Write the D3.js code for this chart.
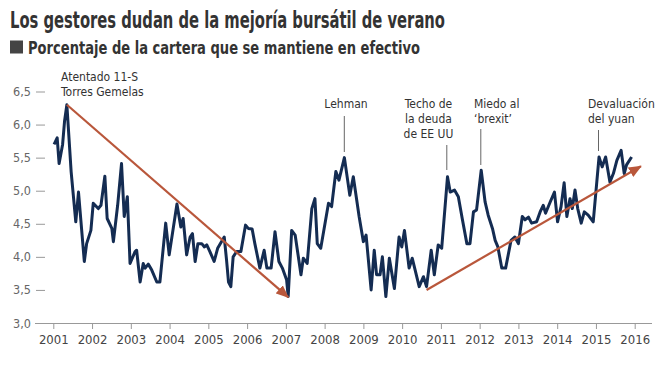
<!DOCTYPE html>
<html>
<head>
<meta charset="utf-8">
<script src="https://cdn.jsdelivr.net/npm/d3@7"></script>
<style>
  body { margin: 0; background: #fff; }
  svg text { font-family: 'Liberation Sans Narrow', 'DejaVu Sans Condensed', 'Arial Narrow', sans-serif; }
</style>
</head>
<body>
<div id="chart"></div>
<script>
'use strict';

// data
var years = [2001, 2002, 2003, 2004, 2005, 2006, 2007, 2008, 2009, 2010, 2011, 2012, 2013, 2014, 2015, 2016];
var yTicks = [3, 3.5, 4, 4.5, 5, 5.5, 6, 6.5];

var cashDates = [
    2001.02, 2001.10, 2001.15, 2001.24, 2001.29, 2001.35, 2001.46, 2001.58, 2001.65, 2001.80,
    2001.86, 2001.97, 2002.03, 2002.16, 2002.23, 2002.33, 2002.39, 2002.51, 2002.55, 2002.66,
    2002.76, 2002.83, 2002.91, 2002.98, 2003.11, 2003.15, 2003.24, 2003.32, 2003.37, 2003.45,
    2003.54, 2003.67, 2003.75, 2003.90, 2003.99, 2004.19, 2004.29, 2004.35, 2004.44, 2004.53,
    2004.59, 2004.66, 2004.73, 2004.83, 2004.90, 2004.96, 2005.04, 2005.15, 2005.24, 2005.41,
    2005.47, 2005.52, 2005.58, 2005.64, 2005.73, 2005.84, 2005.96, 2006.03, 2006.13, 2006.20,
    2006.33, 2006.44, 2006.51, 2006.62, 2006.72, 2006.82, 2006.91, 2007.02, 2007.06, 2007.15,
    2007.24, 2007.39, 2007.45, 2007.55, 2007.67, 2007.75, 2007.81, 2007.90, 2008.10, 2008.18,
    2008.29, 2008.37, 2008.51, 2008.65, 2008.74, 2008.89, 2009.00, 2009.07, 2009.20, 2009.28,
    2009.34, 2009.43, 2009.49, 2009.58, 2009.67, 2009.80, 2009.92, 2009.99, 2010.06, 2010.18,
    2010.26, 2010.44, 2010.55, 2010.63, 2010.75, 2010.83, 2010.93, 2011.02, 2011.17, 2011.24,
    2011.35, 2011.45, 2011.55, 2011.67, 2011.75, 2011.84, 2011.92, 2012.04, 2012.14, 2012.22,
    2012.33, 2012.40, 2012.47, 2012.57, 2012.67, 2012.81, 2012.91, 2013.00, 2013.10, 2013.17,
    2013.26, 2013.34, 2013.47, 2013.56, 2013.64, 2013.70, 2013.82, 2013.93, 2014.01, 2014.10,
    2014.18, 2014.25, 2014.33, 2014.39, 2014.46, 2014.53, 2014.62, 2014.70, 2014.80, 2014.93,
    2015.08, 2015.16, 2015.25, 2015.36, 2015.45, 2015.54, 2015.65, 2015.73, 2015.79, 2015.92
];
var cashValues = [
    5.70, 5.80, 5.41, 5.70, 6.05, 6.30, 5.29, 4.53, 4.98, 3.93,
    4.20, 4.40, 4.81, 4.73, 4.78, 5.22, 4.58, 4.43, 4.23, 4.78,
    5.41, 4.61, 4.91, 3.90, 4.08, 4.10, 3.62, 3.90, 3.83, 3.89,
    3.80, 3.62, 3.62, 4.51, 4.03, 4.80, 4.45, 4.58, 4.03, 4.30,
    4.35, 3.93, 4.20, 4.20, 4.15, 4.18, 4.08, 3.93, 4.13, 4.30,
    3.95, 3.62, 3.55, 4.00, 4.08, 4.08, 4.48, 4.43, 4.42, 4.20,
    3.83, 4.10, 3.83, 3.83, 4.38, 3.93, 3.83, 3.65, 3.40, 4.40,
    4.33, 3.73, 3.98, 3.90, 4.73, 4.88, 4.20, 4.13, 4.81, 4.76,
    5.29, 5.16, 5.50, 4.93, 5.21, 4.61, 4.23, 4.33, 3.50, 4.10,
    3.73, 3.73, 4.00, 3.40, 3.98, 3.52, 4.30, 4.15, 4.40, 3.83,
    3.98, 3.55, 3.70, 3.55, 4.10, 3.73, 4.18, 4.13, 5.21, 4.98,
    5.01, 4.91, 4.58, 4.20, 4.20, 4.68, 4.71, 5.31, 4.83, 4.63,
    4.43, 4.25, 4.15, 3.83, 3.83, 4.25, 4.30, 4.20, 4.61, 4.56,
    4.60, 4.51, 4.53, 4.68, 4.78, 4.66, 4.83, 4.98, 4.53, 4.76,
    5.12, 4.61, 4.88, 4.73, 5.01, 4.73, 4.51, 4.68, 4.63, 4.53,
    5.51, 5.36, 5.51, 5.13, 5.26, 5.46, 5.61, 5.26, 5.39, 5.51
];

// trend arrows: [from, to] as [year, value]
var trendArrows = [
    [[2001.35, 6.30], [2007.06, 3.39]],
    [[2010.63, 3.50], [2016.16, 5.37]]
];

// annotations
var notes = [
    { lines: ['Atentado 11-S', 'Torres Gemelas'], x: 61, y: 81, anchor: 'start', leader: null },
    { lines: ['Lehman'], x: 346, y: 108, anchor: 'middle', leader: [344.3, 116, 152] },
    { lines: ['Techo de', 'la deuda', 'de EE UU'], x: 428.5, y: 108, anchor: 'middle', leader: [446.8, 145, 170] },
    { lines: ['Miedo al', '\u2018brexit\u2019'], x: 474, y: 108, anchor: 'start', leader: [480.8, 129, 165] },
    { lines: ['Devaluaci\u00f3n', 'del yuan'], x: 588, y: 108, anchor: 'start', leader: [598.5, 130, 151] }
];

var svg, x, y;

function setup(){
    svg = d3.select('#chart').append('svg')
        .attr('width', 664)
        .attr('height', 367);

    x = d3.scaleLinear().domain([2001, 2016]).range([53.3, 634.7]);
    y = d3.scaleLinear().domain([3, 6.5]).range([323, 91.5]);

    svg.append('defs').append('marker')
        .attr('id', 'arrowhead')
        .attr('viewBox', '0 0 12 10')
        .attr('refX', 11)
        .attr('refY', 5)
        .attr('markerUnits', 'userSpaceOnUse')
        .attr('markerWidth', 13)
        .attr('markerHeight', 11)
        .attr('orient', 'auto')
        .append('path')
        .attr('d', 'M0,0 L12,5 L0,10 Z')
        .attr('fill', '#b9573b');

    draw();
};

function draw(){
    var titles, xAxis, yAxis, line, gNotes;

    // titles (squeezed to the condensed width of the original)
    titles = svg.append('g');
    titles.append('text')
        .attr('x', 10)
        .attr('y', 28)
        .attr('textLength', 435)
        .attr('lengthAdjust', 'spacingAndGlyphs')
        .style('font-size', '22.5px')
        .style('font-weight', 'bold')
        .style('fill', '#333')
        .text('Los gestores dudan de la mejoría bursátil de verano');
    titles.append('rect')
        .attr('x', 10)
        .attr('y', 40.5)
        .attr('width', 13)
        .attr('height', 13)
        .attr('fill', '#444');
    titles.append('text')
        .attr('x', 28)
        .attr('y', 53.5)
        .attr('textLength', 392)
        .attr('lengthAdjust', 'spacingAndGlyphs')
        .style('font-size', '17.5px')
        .style('font-weight', 'bold')
        .style('fill', '#333')
        .text('Porcentaje de la cartera que se mantiene en efectivo');

    // baseline
    svg.append('line')
        .attr('x1', 35)
        .attr('x2', 652)
        .attr('y1', y(3))
        .attr('y2', y(3))
        .style('stroke', '#999')
        .style('stroke-width', 1)
        .style('shape-rendering', 'crispEdges');

    xAxis = svg.append('g')
        .attr('transform', 'translate(0,' + y(3) + ')')
        .call(d3.axisBottom(x).tickValues(years).tickFormat(d3.format('d')).tickSize(6).tickPadding(6));
    xAxis.select('.domain').remove();
    xAxis.selectAll('line').style('stroke', '#999');
    xAxis.selectAll('text')
        .style('font-size', '13px')
        .style('fill', '#444');

    yAxis = svg.append('g')
        .attr('transform', 'translate(45,0)')
        .call(d3.axisLeft(y).tickValues(yTicks).tickFormat(function(d){ return d3.format('.1f')(d).replace('.', ','); }).tickSize(9).tickPadding(5));
    yAxis.select('.domain').remove();
    yAxis.selectAll('line').style('stroke', '#999');
    yAxis.selectAll('text')
        .style('font-size', '12.5px')
        .style('fill', '#666');

    // data line
    line = d3.line()
        .x(function(d){ return x(d); })
        .y(function(d, i){ return y(cashValues[i]); });

    svg.append('path')
        .datum(cashDates)
        .attr('d', line)
        .style('fill', 'none')
        .style('stroke', '#142c52')
        .style('stroke-width', 3)
        .style('stroke-linejoin', 'round');

    // trend arrows
    svg.selectAll('.trend').data(trendArrows)
        .enter().append('line')
        .attr('class', 'trend')
        .attr('x1', function(d){ return x(d[0][0]); })
        .attr('y1', function(d){ return y(d[0][1]); })
        .attr('x2', function(d){ return x(d[1][0]); })
        .attr('y2', function(d){ return y(d[1][1]); })
        .style('stroke', '#b9573b')
        .style('stroke-width', 2.2)
        .attr('marker-end', 'url(#arrowhead)');

    // annotations
    gNotes = svg.append('g');
    notes.forEach(function(n){
        var t = gNotes.append('text')
            .attr('x', n.x)
            .attr('y', n.y)
            .attr('text-anchor', n.anchor)
            .style('font-size', '12px')
            .style('fill', '#333');
        n.lines.forEach(function(l, i){
            t.append('tspan')
                .attr('x', n.x)
                .attr('dy', i === 0 ? 0 : 15)
                .text(l);
        });
        if (n.leader) {
            gNotes.append('line')
                .attr('x1', n.leader[0])
                .attr('x2', n.leader[0])
                .attr('y1', n.leader[1])
                .attr('y2', n.leader[2])
                .style('stroke', '#666')
                .style('stroke-width', 1);
        }
    });
};

setup();
</script>
</body>
</html>
